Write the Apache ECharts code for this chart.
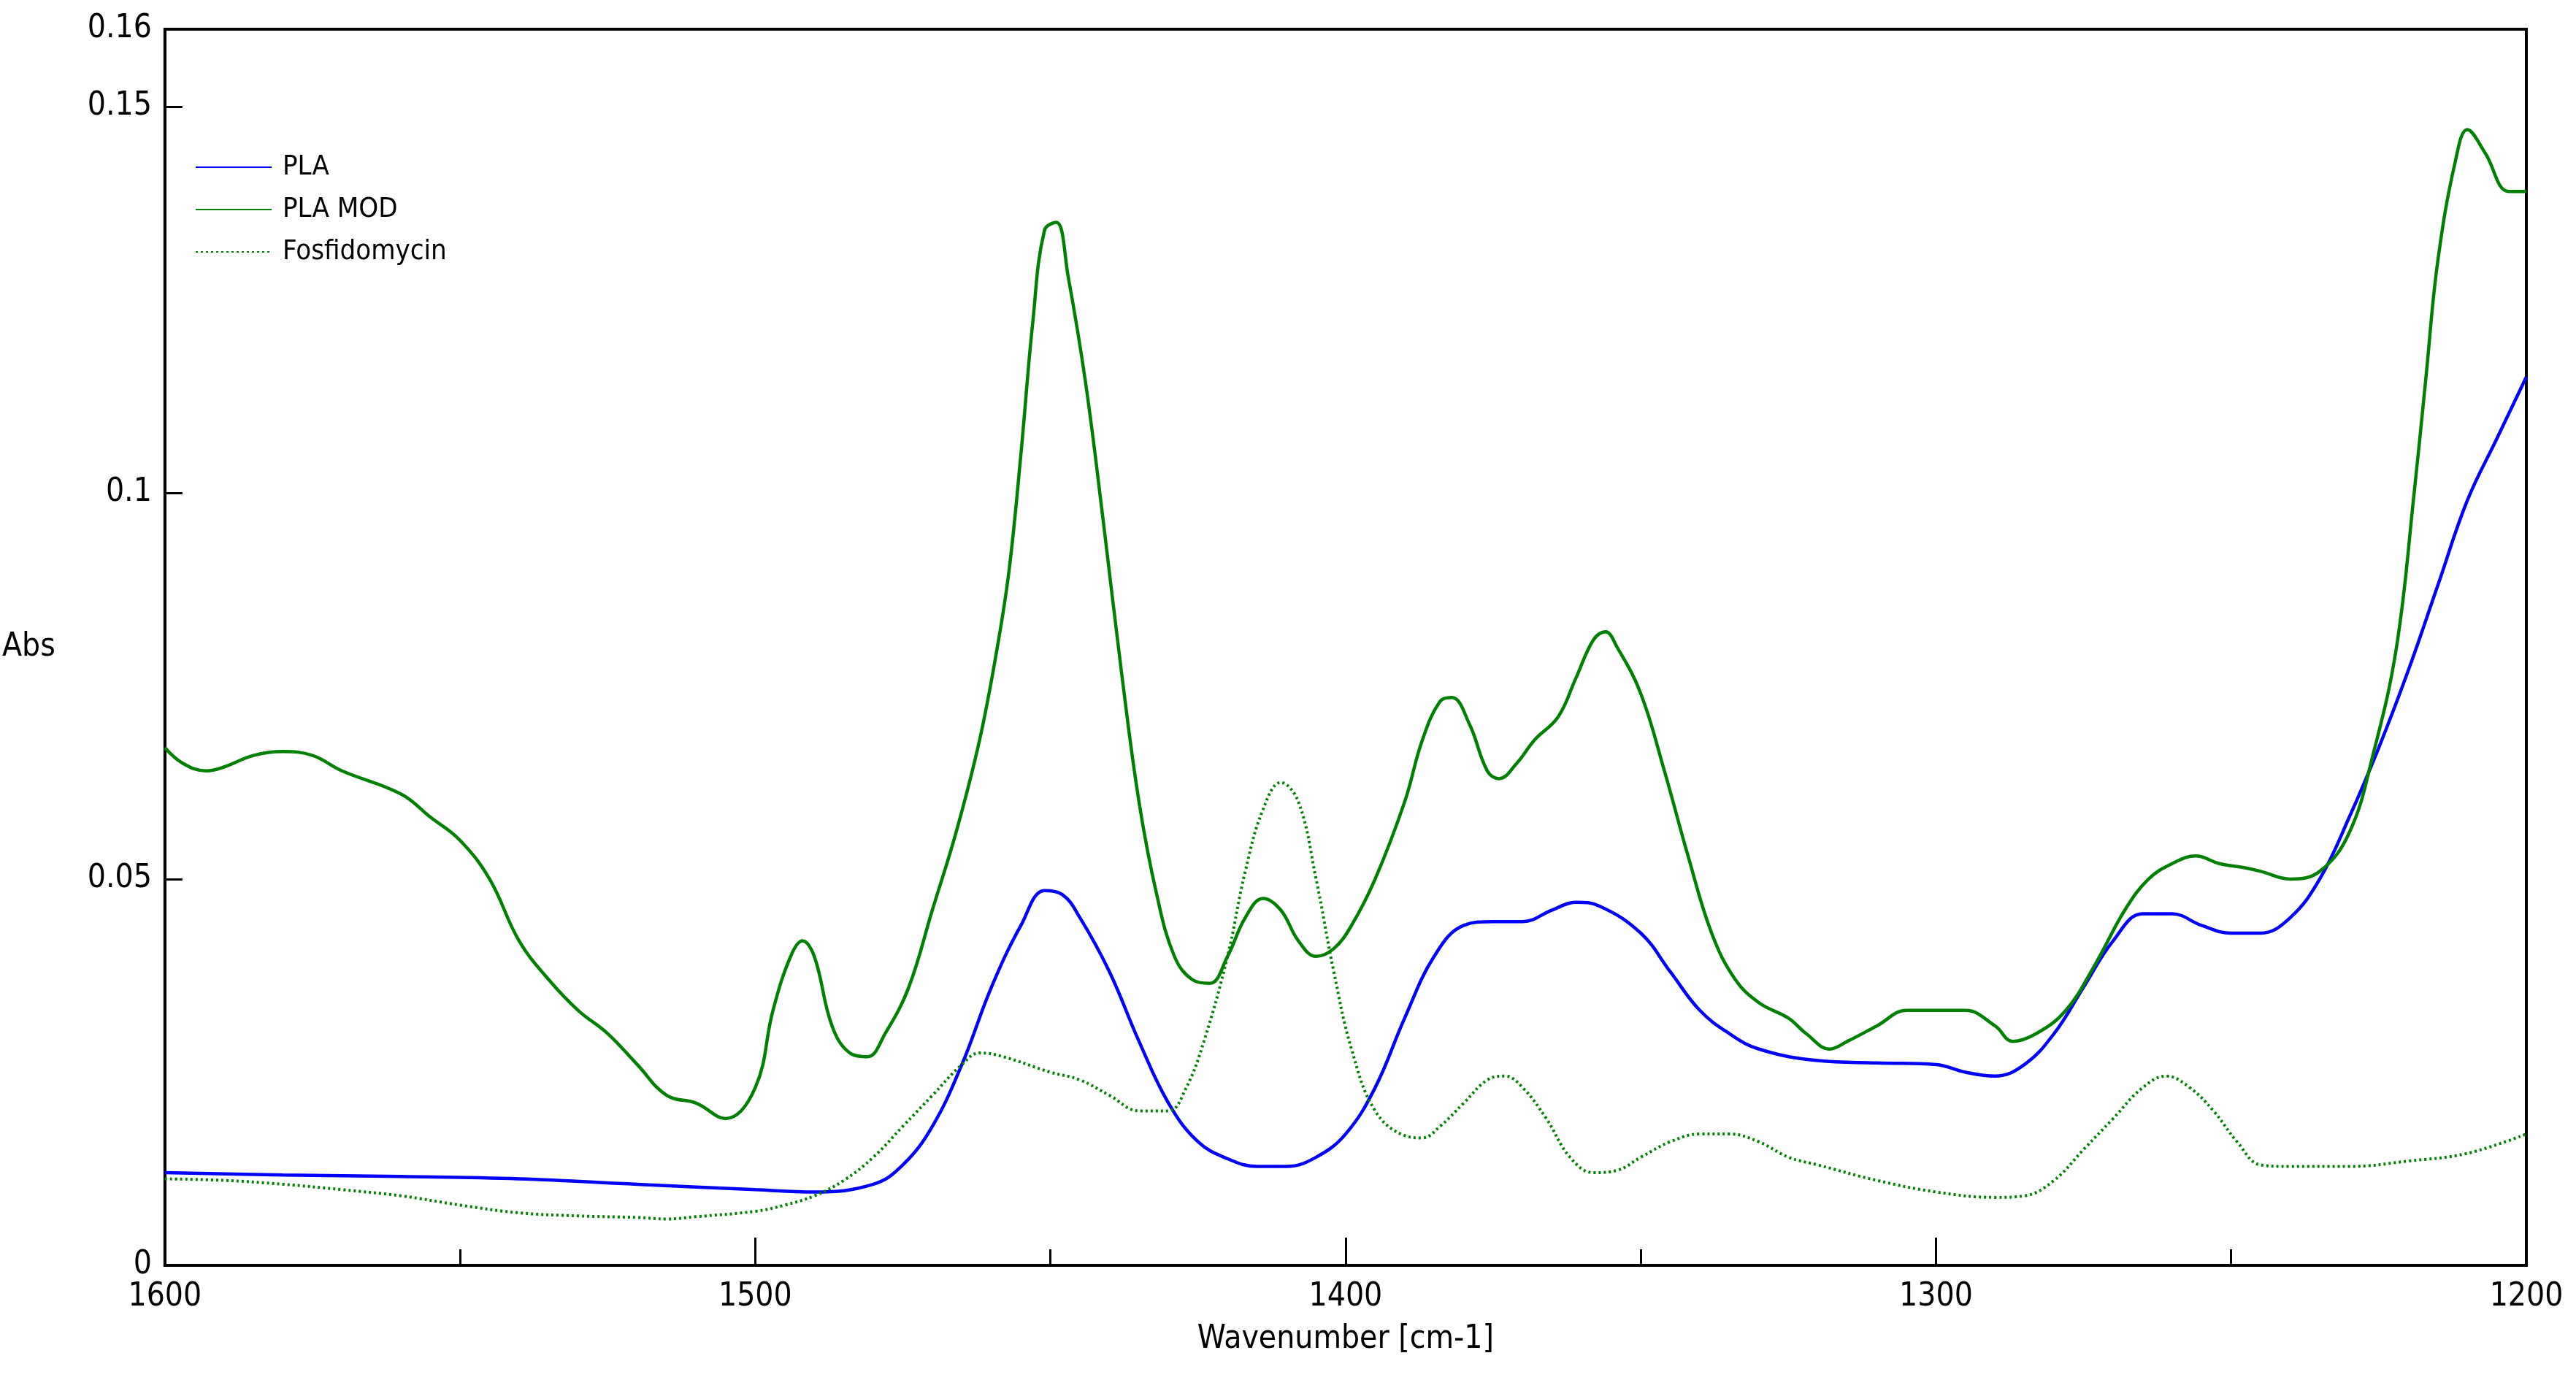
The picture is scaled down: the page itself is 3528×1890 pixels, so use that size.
<!DOCTYPE html>
<html><head><meta charset="utf-8">
<script src="https://cdn.jsdelivr.net/npm/echarts@6/dist/echarts.min.js"></script>
<style>html,body{margin:0;background:#fff}#c{width:3528px;height:1890px}</style>
</head><body><div id="c"></div>
<script>
// wavenumber / absorbance pairs
const pla = [[1600,0.012],[1580,0.0117],[1560,0.0115],[1540,0.0112],[1520,0.0105],[1500,0.0098],[1490,0.0095],[1480,0.0105],[1475,0.013],[1470,0.018],[1465,0.026],[1460,0.036],[1455,0.044],[1451,0.0485],[1448,0.048],[1445,0.045],[1440,0.038],[1435,0.029],[1430,0.021],[1425,0.016],[1420,0.0138],[1415,0.0128],[1410,0.0128],[1405,0.014],[1400,0.017],[1395,0.023],[1390,0.032],[1385,0.04],[1380,0.044],[1375,0.0445],[1370,0.0445],[1365,0.046],[1361,0.047],[1357,0.0465],[1350,0.043],[1345,0.038],[1340,0.033],[1335,0.03],[1330,0.028],[1320,0.0265],[1310,0.0262],[1300,0.026],[1295,0.025],[1290,0.0245],[1285,0.026],[1280,0.03],[1275,0.036],[1270,0.042],[1265,0.0455],[1260,0.0455],[1255,0.044],[1250,0.043],[1245,0.043],[1240,0.045],[1235,0.05],[1230,0.058],[1225,0.067],[1220,0.077],[1215,0.088],[1210,0.099],[1205,0.107],[1200,0.115]];
const plaMod = [[1600,0.067],[1597,0.065],[1593,0.064],[1590,0.0645],[1585,0.066],[1580,0.0665],[1575,0.066],[1570,0.064],[1560,0.061],[1555,0.058],[1550,0.055],[1545,0.05],[1540,0.042],[1535,0.037],[1530,0.033],[1525,0.03],[1520,0.026],[1515,0.022],[1510,0.021],[1505,0.019],[1500,0.023],[1497,0.033],[1494,0.04],[1492,0.042],[1490,0.04],[1487,0.031],[1484,0.0275],[1481,0.027],[1478,0.03],[1474,0.036],[1470,0.046],[1466,0.056],[1462,0.068],[1459,0.08],[1457,0.09],[1455,0.105],[1453,0.122],[1451,0.134],[1449,0.135],[1447,0.128],[1444,0.114],[1441,0.096],[1438,0.077],[1435,0.06],[1432,0.048],[1429,0.04],[1426,0.037],[1423,0.0365],[1420,0.04],[1417,0.045],[1414,0.0475],[1411,0.046],[1408,0.042],[1405,0.04],[1402,0.041],[1399,0.044],[1395,0.05],[1390,0.06],[1387,0.068],[1384,0.073],[1382,0.0735],[1379,0.07],[1376,0.064],[1374,0.063],[1371,0.065],[1368,0.068],[1364,0.071],[1361,0.076],[1358,0.081],[1356,0.082],[1354,0.08],[1350,0.074],[1346,0.064],[1342,0.053],[1338,0.043],[1334,0.037],[1330,0.034],[1325,0.032],[1322,0.03],[1318,0.028],[1315,0.029],[1310,0.031],[1305,0.033],[1300,0.033],[1295,0.033],[1290,0.031],[1287,0.029],[1283,0.03],[1278,0.033],[1273,0.039],[1268,0.046],[1264,0.05],[1260,0.052],[1256,0.053],[1252,0.052],[1248,0.0515],[1245,0.051],[1240,0.05],[1235,0.051],[1230,0.056],[1226,0.066],[1222,0.08],[1219,0.1],[1217,0.115],[1215,0.13],[1212,0.143],[1210,0.147],[1207,0.144],[1203,0.139],[1200,0.139]];
const fosfidomycin = [[1600,0.0112],[1590,0.011],[1580,0.0105],[1570,0.0098],[1560,0.009],[1550,0.0078],[1540,0.0068],[1530,0.0064],[1520,0.0062],[1515,0.006],[1510,0.0063],[1500,0.007],[1495,0.0078],[1490,0.009],[1485,0.011],[1480,0.014],[1475,0.018],[1470,0.022],[1465,0.026],[1462,0.0275],[1458,0.027],[1450,0.025],[1445,0.024],[1440,0.022],[1435,0.02],[1430,0.02],[1427,0.023],[1424,0.029],[1420,0.04],[1417,0.051],[1414,0.059],[1411,0.0625],[1408,0.06],[1405,0.05],[1402,0.038],[1399,0.028],[1395,0.02],[1390,0.0168],[1387,0.0165],[1384,0.018],[1380,0.021],[1376,0.024],[1373,0.0245],[1370,0.023],[1366,0.019],[1362,0.014],[1358,0.012],[1354,0.0123],[1350,0.014],[1345,0.016],[1340,0.017],[1335,0.017],[1330,0.016],[1325,0.014],[1320,0.013],[1310,0.011],[1300,0.0095],[1290,0.0088],[1285,0.009],[1280,0.011],[1275,0.015],[1270,0.019],[1265,0.023],[1261,0.0245],[1257,0.023],[1253,0.02],[1249,0.016],[1245,0.013],[1240,0.0128],[1230,0.0128],[1220,0.0135],[1210,0.0145],[1200,0.017]];
const yLabels = [0, 0.05, 0.1, 0.15, 0.16];
const yTicks = [0, 0.05, 0.1, 0.15];

const font = '"Liberation Sans Narrow", "DejaVu Sans Condensed", sans-serif';
const chart = echarts.init(document.getElementById('c'));
chart.setOption({
  animation: false,
  backgroundColor: '#fff',
  grid: { left: 207, right: 68, top: 40, bottom: 157, show: true, borderColor: '#000', borderWidth: 4 },
  legend: {
    orient: 'vertical', left: 262, top: 205, itemWidth: 104, itemHeight: 20, itemGap: 20,
    itemStyle: { opacity: 0 },
    textStyle: { fontFamily: font, fontSize: 38, color: '#000', padding: [0, 0, 0, 10] },
    data: ['PLA', 'PLA MOD', 'Fosfidomycin']
  },
  xAxis: {
    type: 'value', inverse: true, min: 1200, max: 1600, interval: 100,
    name: 'Wavenumber [cm-1]', nameLocation: 'middle', nameGap: 80,
    nameTextStyle: { fontFamily: font, fontSize: 44, color: '#000' },
    axisLine: { lineStyle: { color: '#000', width: 4 } },
    axisTick: { inside: true, length: 38, lineStyle: { color: '#000', width: 3 } },
    minorTick: { show: true, splitNumber: 2, length: 22, lineStyle: { color: '#000', width: 3 } },
    axisLabel: { fontFamily: font, fontSize: 44, color: '#000', margin: 22, formatter: v => String(v) },
    splitLine: { show: false }
  },
  yAxis: {
    type: 'value', min: 0, max: 0.16,
    name: 'Abs', nameLocation: 'middle', nameRotate: 0, nameGap: 150,
    nameTextStyle: { fontFamily: font, fontSize: 44, color: '#000' },
    axisLine: { lineStyle: { color: '#000', width: 4 } },
    axisTick: { inside: true, length: 24, customValues: yTicks, lineStyle: { color: '#000', width: 3 } },
    axisLabel: { fontFamily: font, fontSize: 44, color: '#000', margin: 18, customValues: yLabels, showMaxLabel: true },
    splitLine: { show: false }
  },
  series: [
    { name: 'PLA', type: 'line', data: pla, smooth: 0.4, symbol: 'none', color: '#0000ff', lineStyle: { width: 4.5 } },
    { name: 'PLA MOD', type: 'line', data: plaMod, smooth: 0.4, symbol: 'none', color: '#008000', lineStyle: { width: 4.5 } },
    { name: 'Fosfidomycin', type: 'line', data: fosfidomycin, smooth: 0.4, symbol: 'none', color: '#008000', lineStyle: { width: 4, type: [3, 4] } }
  ]
});
</script></body></html>
